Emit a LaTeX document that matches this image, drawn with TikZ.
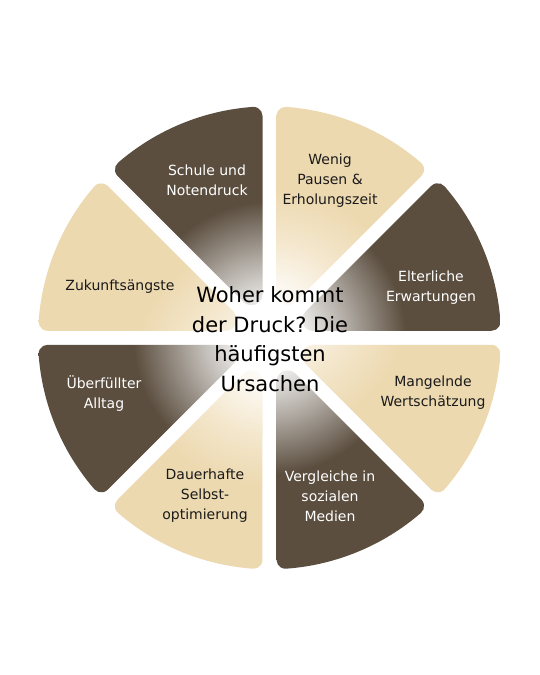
\documentclass[tikz,border=0pt]{standalone}
\usepackage{fontspec}
\setmainfont{DejaVu Sans}
\frenchspacing
\definecolor{dk}{HTML}{5B4E3F}
\definecolor{lt}{HTML}{EDD9B0}
\definecolor{txtdark}{HTML}{1A1A1A}
\pgfdeclareradialshading{dkshade}{\pgfpointorigin}{color(0bp)=(white); color(3bp)=(dk!8!white); color(7.5bp)=(dk!50!white); color(12.5bp)=(dk); color(50bp)=(dk)}
\pgfdeclareradialshading{ltshade}{\pgfpointorigin}{color(0bp)=(white); color(3bp)=(lt!20!white); color(7.5bp)=(lt!65!white); color(12.5bp)=(lt); color(50bp)=(lt)}
\newcommand\mywedge{(42.83pt,-10.163pt) -- (207.711pt,-78.458pt)
  arc[start angle=-112.5, end angle=-18.376, radius=9pt]
  arc[start angle=-18.376, end angle=18.376, radius=231.5pt]
  arc[start angle=18.376, end angle=112.5, radius=9pt]
  -- (42.83pt,10.163pt)
  arc[start angle=112.5, end angle=247.5, radius=11pt] -- cycle}
\tikzset{
  smalltxt/.style={align=center, inner sep=0pt, font=\fontsize{14}{20}\selectfont},
  ondark/.style={smalltxt, text=white},
  onlight/.style={smalltxt, text=txtdark},
  bigtxt/.style={align=center, inner sep=0pt, text=black, font=\fontsize{21}{29.5}\selectfont}
}
\begin{document}
\begin{tikzpicture}[x=1pt,y=1pt]
\fill[white] (0,0) rectangle (540,675);
\useasboundingbox (0,0) rectangle (540,675);
\foreach \k/\sh in {0/dkshade,1/ltshade,2/dkshade,3/ltshade,4/dkshade,5/ltshade,6/dkshade,7/ltshade}{
  \begin{scope}[shift={(269.5pt,337.2pt)}, rotate=45*\k+22.5]
    \clip \mywedge;
    \shade[shading=\sh] (0,0) circle (240pt);
  \end{scope}
}
\node[ondark]  (t1) at (207,495) {Schule und\\Notendruck};
\node[onlight] (t2) at (330,494) {Wenig\\Pausen \&\\Erholungszeit};
\node[ondark]  (t3) at (431,387) {Elterliche\\Erwartungen};
\node[onlight] (t4) at (433,282) {Mangelnde\\Wertschätzung};
\node[ondark]  (t5) at (330,179) {Vergleiche in\\sozialen\\Medien};
\node[onlight] (t6) at (205,179) {Dauerhafte\\Selbst-\\optimierung};
\node[ondark]  (t7) at (104,281) {Überfüllter\\Alltag};
\node[onlight] (t8) at (120,388) {Zukunftsängste};
\node[bigtxt]  (c)  at (270,336) {Woher kommt\\der Druck? Die\\häufigsten\\Ursachen};
\end{tikzpicture}
\end{document}
